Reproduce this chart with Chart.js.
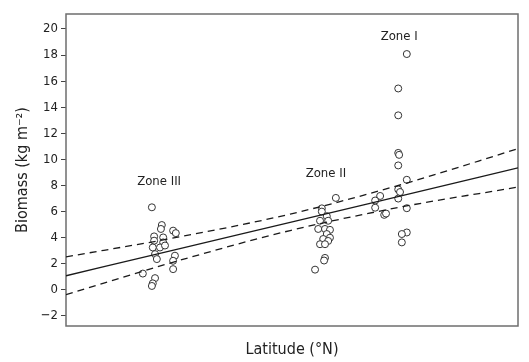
<!DOCTYPE html>
<html lang="en">
<head>
    <meta charset="UTF-8" />
    <title>Biomass vs Latitude</title>
    <script src="https://cdn.jsdelivr.net/npm/chart.js"></script>
    <style>
        html, body { margin: 0; padding: 0; background: #fff; }
        #wrap { width: 529px; height: 362px; }
    </style>
</head>
<body>
    <div id="wrap"><canvas id="biomassChart"></canvas></div>

    <script>
        // y axis ticks
        const yTicks = [-2, 0, 2, 4, 6, 8, 10, 12, 14, 16, 18, 20];

        // observations, latitude in relative units (no x ticks shown)
        const zone3X = [19.0, 21.2, 21.0, 23.7, 24.3, 19.5, 21.5, 19.5, 21.5, 19.2, 20.8, 21.9, 19.7, 24.1, 20.1, 23.7, 23.7, 17.0, 19.7, 19.2, 19.0];
        const zone3Y = [6.33, 4.97, 4.67, 4.54, 4.35, 4.10, 4.02, 3.77, 3.64, 3.25, 3.25, 3.40, 2.74, 2.62, 2.36, 2.23, 1.59, 1.25, 0.90, 0.50, 0.30];

        const zone2X = [59.7, 56.6, 56.6, 57.7, 56.2, 58.0, 55.8, 57.3, 58.4, 57.7, 58.4, 56.9, 58.0, 56.2, 57.3, 57.3, 57.1, 55.1];
        const zone2Y = [7.05, 6.25, 6.00, 5.65, 5.30, 5.30, 4.67, 4.67, 4.60, 4.28, 4.00, 3.90, 3.75, 3.50, 3.50, 2.45, 2.25, 1.55];

        const zone1X = [75.4, 73.5, 73.5, 73.5, 73.7, 73.5, 75.4, 73.5, 73.9, 73.5, 69.5, 68.4, 68.4, 70.4, 70.8, 75.4, 75.4, 74.3, 74.3];
        const zone1Y = [18.08, 15.44, 13.38, 10.50, 10.35, 9.54, 8.44, 7.70, 7.50, 7.00, 7.20, 6.85, 6.30, 5.75, 5.85, 6.26, 4.40, 4.28, 3.64];

        // regression line and confidence band
        const fitX = [0, 25.2, 49.6, 73.9, 100];
        const fitY = [1.08, 3.17, 5.18, 7.19, 9.35];
        const upperY = [2.53, 4.07, 5.81, 8.04, 10.82];
        const lowerY = [-0.37, 2.27, 4.55, 6.34, 7.88];

        // zone labels
        const zoneNames = ['Zone III', 'Zone II', 'Zone I'];
        const zoneLabelX = [20.6, 57.5, 73.7];
        const zoneLabelY = [8.3, 8.9, 19.4];

        const FONT = "'Liberation Sans Narrow', 'DejaVu Sans Condensed', 'Roboto', sans-serif";

        const toPts = (xs, ys) => xs.map((x, i) => ({ x: x, y: ys[i] }));

        const pointStyle = {
            type: 'scatter',
            pointRadius: 3.5,
            pointBackgroundColor: '#fff',
            pointBorderColor: '#333',
            pointBorderWidth: 1,
            showLine: false
        };

        const lineStyle = {
            type: 'line',
            borderColor: '#1a1a1a',
            borderWidth: 1.3,
            pointRadius: 0,
            fill: false,
            cubicInterpolationMode: 'monotone'
        };

        // frame around plot area + zone labels
        const framePlugin = {
            id: 'frame',
            beforeDatasetsDraw(chart) {
                const { ctx, chartArea: a } = chart;
                ctx.save();
                ctx.strokeStyle = '#6e6e6e';
                ctx.lineWidth = 1.5;
                ctx.strokeRect(a.left, a.top, a.right - a.left, a.bottom - a.top);
                ctx.restore();
            },
            afterDatasetsDraw(chart) {
                const { ctx, scales } = chart;
                ctx.save();
                ctx.fillStyle = '#222';
                ctx.font = '13px ' + FONT;
                ctx.textAlign = 'center';
                ctx.textBaseline = 'middle';
                zoneNames.forEach((t, i) => {
                    ctx.fillText(t, scales.x.getPixelForValue(zoneLabelX[i]), scales.y.getPixelForValue(zoneLabelY[i]));
                });
                ctx.restore();
            }
        };

        const ctx = document.getElementById('biomassChart').getContext('2d');
        new Chart(ctx, {
            data: {
                datasets: [
                    Object.assign({}, lineStyle, { data: toPts(fitX, upperY), borderDash: [7, 5] }),
                    Object.assign({}, lineStyle, { data: toPts(fitX, lowerY), borderDash: [7, 5] }),
                    Object.assign({}, lineStyle, { data: toPts(fitX, fitY) }),
                    Object.assign({}, pointStyle, { data: toPts(zone3X, zone3Y) }),
                    Object.assign({}, pointStyle, { data: toPts(zone2X, zone2Y) }),
                    Object.assign({}, pointStyle, { data: toPts(zone1X, zone1Y) })
                ]
            },
            options: {
                responsive: true,
                maintainAspectRatio: false,
                animation: false,
                layout: { padding: { top: 14, right: 11, left: 0, bottom: 0 } },
                plugins: {
                    legend: { display: false },
                    tooltip: { enabled: false }
                },
                scales: {
                    x: {
                        type: 'linear',
                        min: 0,
                        max: 100,
                        grid: { display: false },
                        border: { display: false },
                        ticks: { display: false },
                        title: {
                            display: true,
                            text: 'Latitude (°N)',
                            color: '#222',
                            font: { family: FONT, size: 16 },
                            padding: { top: 0, bottom: 3 }
                        },
                        afterFit(axis) { axis.height = 36; }
                    },
                    y: {
                        type: 'linear',
                        min: -2.77,
                        max: 21.15,
                        afterBuildTicks(axis) { axis.ticks = yTicks.map(v => ({ value: v })); },
                        grid: { drawOnChartArea: false, drawTicks: true, tickLength: 5, color: '#444', lineWidth: 1 },
                        border: { display: false },
                        ticks: {
                            color: '#222',
                            padding: 3,
                            font: { family: FONT, size: 13 },
                            callback: v => (v < 0 ? '\u2212' + Math.abs(v) : '' + v)
                        },
                        title: {
                            display: true,
                            text: 'Biomass (kg m\u207B\u00B2)',
                            color: '#222',
                            font: { family: FONT, size: 16 },
                            padding: { top: 13, bottom: 0 }
                        },
                        afterFit(axis) { axis.width = 66; }
                    }
                }
            },
            plugins: [framePlugin]
        });
    </script>
</body>
</html>
